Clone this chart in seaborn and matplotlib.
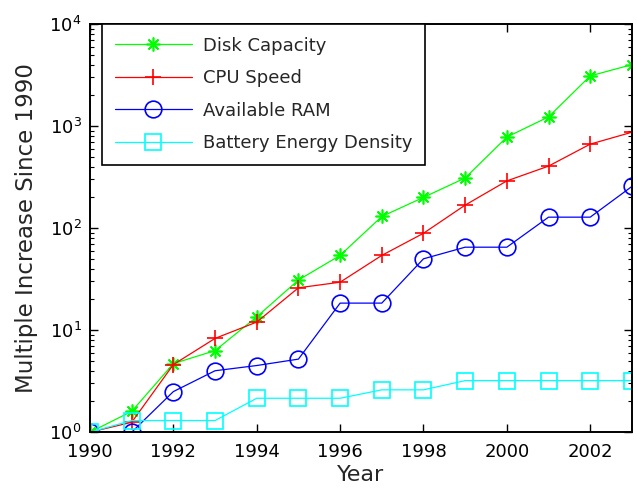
import matplotlib
matplotlib.use("Agg")
import matplotlib.pyplot as plt
import seaborn as sns
from matplotlib.ticker import LogLocator, FixedLocator

# values
years = [1990, 1991, 1992, 1993, 1994, 1995, 1996, 1997, 1998, 1999, 2000, 2001, 2002, 2003]
disk_capacity = [1, 1.6, 4.7, 6.3, 13.5, 31, 54, 130, 200, 310, 780, 1230, 3100, 4000]
cpu_speed = [1, 1.25, 4.6, 8.3, 12, 26, 29.5, 54, 89, 168, 290, 405, 665, 870]
available_ram = [1, 1, 2.5, 4, 4.5, 5.2, 18.4, 18.4, 50, 65, 65, 128, 128, 256]
battery_density = [1, 1.3, 1.3, 1.3, 2.15, 2.15, 2.15, 2.6, 2.6, 3.2, 3.2, 3.2, 3.2, 3.2]

series_labels = ["Disk Capacity", "CPU Speed", "Available RAM", "Battery Energy Density"]
year_ticks = [1990, 1992, 1994, 1996, 1998, 2000, 2002]


def main():
    sns.set_style("ticks")
    plt.rcParams["font.family"] = ["DejaVu Sans"]

    fig = plt.figure(figsize=(6.37, 4.9), dpi=100)
    fig.subplots_adjust(left=0.1413, right=0.992, bottom=0.118, top=0.951)
    ax = fig.add_subplot(111)

    styles = [
        (disk_capacity, "#00ff00", (8, 2, 0), 10, "#00ff00"),
        (cpu_speed, "#ff0000", "+", 12, "#ff0000"),
        (available_ram, "#0000ff", "o", 12, "none"),
        (battery_density, "#00ffff", "s", 11.5, "none"),
    ]
    for (values, color, marker, size, face), label in zip(styles, series_labels):
        sns.lineplot(
            x=years, y=values, ax=ax, color=color, label=label,
            linewidth=0.9, marker=marker, markersize=size,
            markerfacecolor=face, markeredgecolor=color, markeredgewidth=1.2,
        )

    ax.set_yscale("log")
    ax.set_ylim(1, 1e4)
    ax.set_xlim(1990, 2003)
    ax.xaxis.set_major_locator(FixedLocator(year_ticks))
    ax.yaxis.set_major_locator(LogLocator(base=10, numticks=10))
    ax.yaxis.set_minor_locator(LogLocator(base=10, subs=range(2, 10), numticks=10))

    for side in ["top", "right", "bottom", "left"]:
        ax.spines[side].set_visible(True)
        ax.spines[side].set_linewidth(1.4)
        ax.spines[side].set_color("black")

    ax.tick_params(which="both", direction="in", top=True, right=True, colors="black")
    ax.tick_params(which="major", length=6, width=1.0, labelsize=13)
    ax.tick_params(which="minor", length=3, width=0.8)
    ax.tick_params(axis="x", pad=8)
    ax.tick_params(axis="y", pad=6)

    ax.set_xlabel("Year", fontsize=16, labelpad=3)
    ax.set_ylabel("Multiple Increase Since 1990", fontsize=16.5, labelpad=8)

    leg = ax.legend(
        loc="upper left", bbox_to_anchor=(12 / 542, 1.0), borderaxespad=0,
        fontsize=13, frameon=True, fancybox=False, framealpha=1,
        edgecolor="black", handlelength=4.3, handletextpad=0.6,
        labelspacing=0.8, borderpad=0.7,
    )
    leg.get_frame().set_linewidth(1.2)

    fig.savefig("out.png", dpi=100)
    plt.close(fig)


if __name__ == "__main__":
    main()
